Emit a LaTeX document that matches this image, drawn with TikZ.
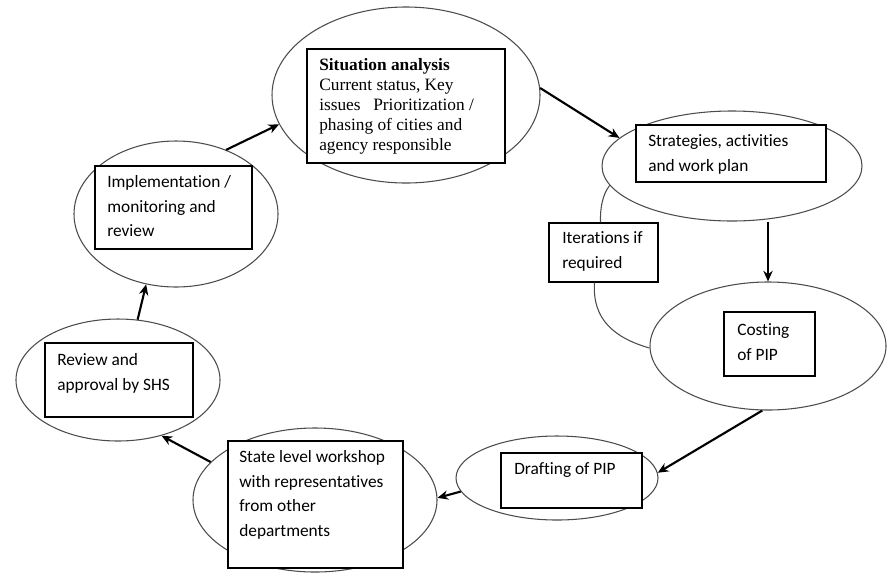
\documentclass[tikz,border=0pt]{standalone}
\usepackage{fontspec}
\setmainfont[Ligatures=NoCommon]{Carlito}
\newfontfamily\serifface{Liberation Serif}
\usetikzlibrary{shapes.geometric,arrows.meta,calc}
\begin{document}
\begin{tikzpicture}[x=0.75pt,y=-0.75pt,
  ell/.style={draw=black!70, line width=0.8pt, ellipse, inner sep=0pt},
  tbox/.style={draw=black, line width=1pt, fill=white, inner sep=0pt, rectangle},
  txt/.style={anchor=north west, inner sep=0pt, align=left, font=\fontsize{13}{18.6}\selectfont},
  stxt/.style={anchor=north west, inner sep=0pt, align=left, font=\serifface\fontsize{13}{15}\selectfont},
  arr/.style={line width=1.6pt, -{Stealth[length=8pt,width=7pt]}},
  iterline/.style={draw=black!70, line width=0.8pt}]
\useasboundingbox (0,0) rectangle (887,576);
% ellipses
\node[ell, minimum width=201pt, minimum height=132pt] (sit) at (406,95) {};
\node[ell, minimum width=195pt, minimum height=82.5pt] (strat) at (732,166) {};
\node[ell, minimum width=177pt, minimum height=96pt] (cost) at (768,346) {};
\node[ell, minimum width=151.5pt, minimum height=63pt] (draft) at (557,478) {};
\node[ell, minimum width=183pt, minimum height=108pt] (work) at (315,500) {};
\node[ell, minimum width=153pt, minimum height=91.5pt] (rev) at (118,380) {};
\node[ell, minimum width=153pt, minimum height=109.5pt] (impl) at (176,214) {};
% boxes
\node[tbox, minimum width=148.5pt, minimum height=85.5pt] (sitbox) at (406,106) {};
\node[tbox, minimum width=142.5pt, minimum height=42.75pt] (stratbox) at (731,153.5) {};
\node[tbox, minimum width=81.75pt, minimum height=44.25pt] (iter) at (603.5,252.5) {};
\node[tbox, minimum width=68.25pt, minimum height=48pt] (costbox) at (769.5,344) {};
\node[tbox, minimum width=105.75pt, minimum height=41.25pt] (draftbox) at (571.5,480.5) {};
\node[tbox, minimum width=131.25pt, minimum height=95.25pt] (workbox) at (315.5,504.5) {};
\node[tbox, minimum width=111pt, minimum height=55.5pt] (revbox) at (119,380) {};
\node[tbox, minimum width=117.75pt, minimum height=62.25pt] (implbox) at (173.5,207.5) {};
% texts
\node[stxt] (sittext) at (319,58) {\textbf{Situation analysis}\\Current status, Key\\issues\hspace{9.5pt}Prioritization /\\phasing of cities and\\agency responsible};
\node[txt] (strattext) at (648,134) {Strategies, activities\\and work plan};
\node[txt] (itertext) at (562,231) {Iterations if\\required};
\node[txt] (costtext) at (737,323) {Costing\\of PIP};
\node[txt] (drafttext) at (514,462) {Drafting of PIP};
\node[txt] (worktext) at (239,450) {State level workshop\\with representatives\\from other\\departments};
\node[txt] (revtext) at (57,353) {Review and\\approval by SHS};
\node[txt] (impltext) at (107,175) {Implementation /\\monitoring and\\review};
% arrows
\draw[arr] (sit.3) -- (strat.166);
\draw[arr] (cost.north |- strat.south) -- (cost.north);
\draw[arr] (cost.265) -- (draft.3);
\draw[arr] (draft.188) -- (work.1);
\draw[arr] (work.160) -- (rev.-52);
\draw[arr] (rev.72) -- (impl.-113);
\draw[arr] (impl.52) -- (sit.193);
% iteration loop
\draw[iterline] (strat.189) .. controls (602,195) and (600,210) .. ($(iter.north)+(-3,0)$);
\draw[iterline] ($(iter.south)+(-9,0)$) .. controls (592,320) and (615,338) .. (cost.181);
\end{tikzpicture}
\end{document}
